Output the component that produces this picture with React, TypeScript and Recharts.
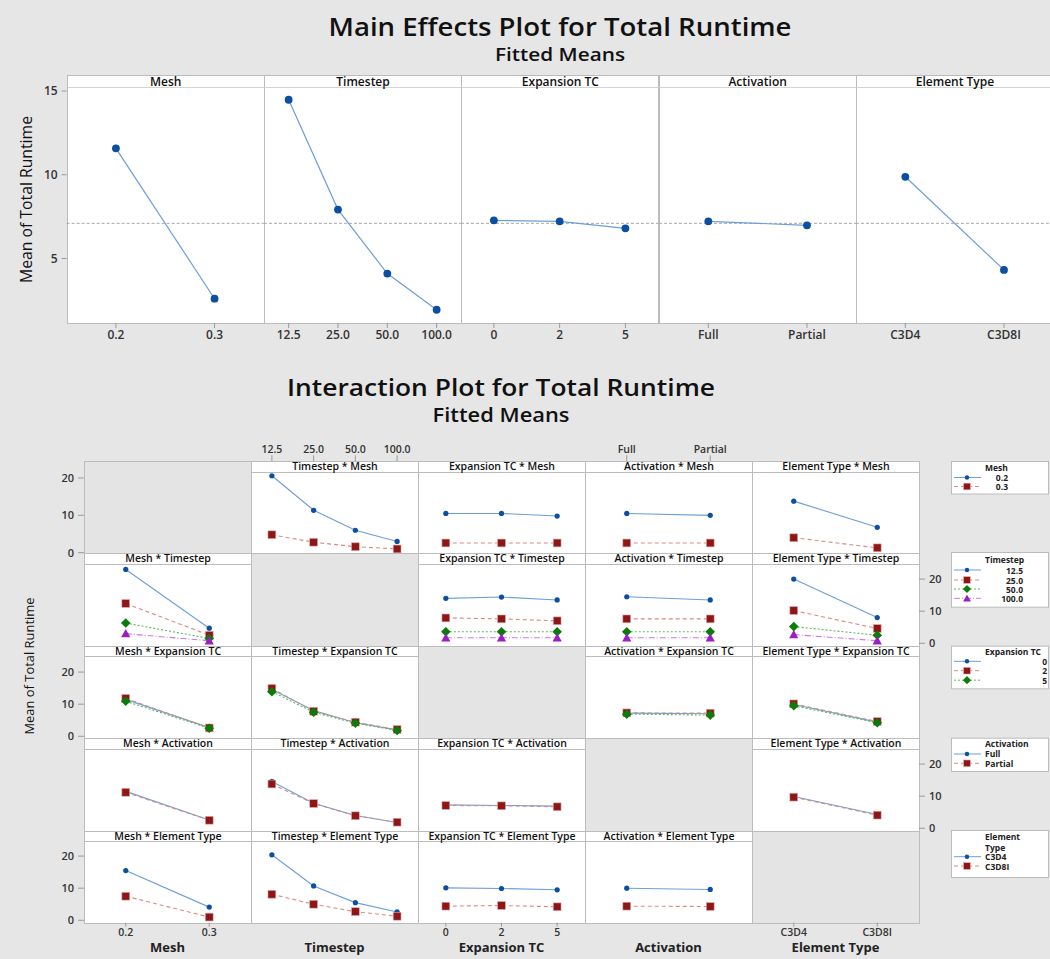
import React from 'react';
import { LineChart, Line, XAxis, YAxis, ReferenceLine } from 'recharts';

// factor levels (x categories)
const meshLevels = ['0.2', '0.3'];
const timestepLevels = ['12.5', '25.0', '50.0', '100.0'];
const expansionLevels = ['0', '2', '5'];
const activationLevels = ['Full', 'Partial'];
const elementLevels = ['C3D4', 'C3D8I'];

const factorNames = ['Mesh', 'Timestep', 'Expansion TC', 'Activation', 'Element Type'];
const factorLevels = [meshLevels, timestepLevels, expansionLevels, activationLevels, elementLevels];

// main effects, fitted means
const meshMeans = [11.58, 2.6];
const timestepMeans = [14.48, 7.92, 4.1, 1.94];
const expansionMeans = [7.28, 7.22, 6.8];
const activationMeans = [7.22, 6.98];
const elementMeans = [9.88, 4.32];
const mainMeans = [meshMeans, timestepMeans, expansionMeans, activationMeans, elementMeans];
const grandMean = 7.1;
const mainTicks = [5, 10, 15];

// interaction fitted means: [group level][x level]
// row 1: grouped by Mesh
const timestepByMesh = [[20.6, 11.35, 6.0, 3.0], [4.8, 2.8, 1.6, 1.0]];
const expansionByMesh = [[10.5, 10.5, 9.8], [2.6, 2.6, 2.6]];
const activationByMesh = [[10.5, 10.0], [2.6, 2.6]];
const elementByMesh = [[13.8, 6.8], [4.0, 1.3]];
// row 2: grouped by Timestep
const meshByTimestep = [[23.0, 4.7], [12.4, 2.5], [6.3, 1.5], [3.0, 0.8]];
const expansionByTimestep = [[14.0, 14.4, 13.5], [7.9, 7.6, 7.0], [3.6, 3.6, 3.6], [1.7, 1.7, 1.7]];
const activationByTimestep = [[14.5, 13.5], [7.6, 7.6], [3.6, 3.6], [1.7, 1.7]];
const elementByTimestep = [[20.0, 8.0], [10.2, 4.6], [5.2, 2.5], [2.7, 0.8]];
// row 3: grouped by Expansion TC
const meshByExpansion = [[11.5, 2.7], [11.8, 2.6], [10.9, 2.5]];
const timestepByExpansion = [[14.6, 8.0, 4.2, 2.0], [14.9, 7.8, 4.4, 2.1], [13.9, 7.5, 4.1, 1.8]];
const activationByExpansion = [[7.2, 7.0], [7.3, 7.2], [6.9, 6.6]];
const elementByExpansion = [[9.9, 4.4], [10.1, 4.6], [9.5, 4.2]];
// row 4: grouped by Activation
const meshByActivation = [[11.5, 2.6], [11.2, 2.5]];
const timestepByActivation = [[14.6, 7.8, 4.0, 1.8], [13.8, 7.7, 3.9, 1.9]];
const expansionByActivation = [[7.3, 7.1, 6.9], [7.1, 7.0, 6.7]];
const elementByActivation = [[9.9, 4.3], [9.7, 4.1]];
// row 5: grouped by Element Type
const meshByElement = [[15.5, 4.1], [7.5, 1.0]];
const timestepByElement = [[20.4, 10.7, 5.5, 2.6], [8.1, 5.0, 2.7, 1.25]];
const expansionByElement = [[10.1, 9.9, 9.5], [4.4, 4.6, 4.2]];
const activationByElement = [[10.0, 9.6], [4.4, 4.3]];

const interactionCells: (number[][] | null)[][] = [
  [null, timestepByMesh, expansionByMesh, activationByMesh, elementByMesh],
  [meshByTimestep, null, expansionByTimestep, activationByTimestep, elementByTimestep],
  [meshByExpansion, timestepByExpansion, null, activationByExpansion, elementByExpansion],
  [meshByActivation, timestepByActivation, expansionByActivation, null, elementByActivation],
  [meshByElement, timestepByElement, expansionByElement, activationByElement, null],
];
const interTicks = [0, 10, 20];

// layout
const FONT = '"Open Sans", "Noto Sans", sans-serif';
const BG = '#e6e6e6';
const BORDER = '#bcbcbc';
const TICK = '#9a9a9a';

const ME_LEFT = 66.6;
const ME_W = 197.3;
const ME_HEAD_TOP = 74.5;
const ME_PLOT_TOP = 87;
const ME_PLOT_BOTTOM = 323;

const IP_LEFT = 84;
const IP_COL_W = 167;
const IP_TOP = 461;
const IP_ROW_H = 92.4;
const IP_HEAD = 10.7;

type Shape = 'circle' | 'square' | 'diamond' | 'triangle';
const SERIES = [
  { line: '#6c9fd8', dash: undefined as string | undefined, fill: '#0b4ea2', shape: 'circle' as Shape },
  { line: '#d98b86', dash: '4 3', fill: '#8e1616', shape: 'square' as Shape },
  { line: '#5cb85c', dash: '2 2', fill: '#0b7c0b', shape: 'diamond' as Shape },
  { line: '#c77ddf', dash: '6 2 1 2', fill: '#9a1ec4', shape: 'triangle' as Shape },
];

function Marker({ cx, cy, shape, fill, s = 1 }: { cx?: number; cy?: number; shape: Shape; fill: string; s?: number }) {
  if (cx == null || cy == null) return null;
  if (shape === 'circle') return <circle cx={cx} cy={cy} r={2.6 * s} fill={fill} />;
  if (shape === 'square') {
    const h = 3.9 * s;
    return <rect x={cx - h} y={cy - h} width={2 * h} height={2 * h} fill={fill} stroke="#e2a6a6" strokeWidth={0.6} />;
  }
  if (shape === 'diamond') {
    const h = 4.8 * s;
    return <polygon points={`${cx},${cy - h} ${cx + h},${cy} ${cx},${cy + h} ${cx - h},${cy}`} fill={fill} />;
  }
  const h = 4.6 * s;
  return <polygon points={`${cx},${cy - h} ${cx + h},${cy + h * 0.8} ${cx - h},${cy + h * 0.8}`} fill={fill} />;
}

const tickText = (size: number) => ({ fill: '#333', fontSize: size, fontWeight: 600, fontFamily: FONT });

function MainPanel({ idx }: { idx: number }) {
  const levels = factorLevels[idx];
  const means = mainMeans[idx];
  const first = idx === 0;
  const L = first ? ME_LEFT : 0;
  const panelLeft = ME_LEFT + idx * ME_W;
  const data = levels.map((_, i) => ({ i, mean: means[i] }));
  return (
    <div style={{ position: 'absolute', left: panelLeft - L, top: ME_PLOT_TOP - 8 }}>
      <LineChart width={ME_W + L} height={ME_PLOT_BOTTOM - ME_PLOT_TOP + 34} data={data} margin={{ top: 8, right: 0, bottom: 0, left: 0 }}>
        <XAxis
          type="number"
          dataKey="i"
          domain={[-0.5, levels.length - 0.5]}
          ticks={levels.map((_, i) => i)}
          tickFormatter={(v: number) => levels[v] ?? ''}
          interval={0}
          height={26}
          axisLine={false}
          tickSize={5}
          tickMargin={2}
          tickLine={{ stroke: TICK }}
          tick={tickText(12)}
          allowDataOverflow
        />
        <YAxis
          type="number"
          domain={[1.15, 15.24]}
          ticks={mainTicks}
          interval={0}
          hide={!first}
          width={L}
          axisLine={false}
          tickSize={5}
          tickMargin={4}
          tickLine={{ stroke: TICK }}
          tick={tickText(12)}
          allowDataOverflow
        />
        <ReferenceLine y={grandMean} stroke="#a9a9a9" strokeDasharray="3 2" />
        <Line
          type="linear"
          dataKey="mean"
          stroke="#6c9fd8"
          strokeWidth={1.2}
          dot={(p: any) => <Marker key={`m${p.index}`} cx={p.cx} cy={p.cy} shape="circle" fill="#0b4ea2" s={1.5} />}
          activeDot={false}
          isAnimationActive={false}
        />
      </LineChart>
    </div>
  );
}

function InteractionCell({ r, c }: { r: number; c: number }) {
  const series = interactionCells[r][c];
  const levels = factorLevels[c];
  const left = c === 0 && r % 2 === 0;
  const right = c === 4 && r % 2 === 1;
  const top = r === 0 && c % 2 === 1;
  const bottom = r === 4 && c % 2 === 0;
  if (!series && !left && !right && !top && !bottom) return null;
  const L = left ? 44 : 0;
  const R = right ? 34 : 0;
  const T = top ? 36 : 0;
  const B = bottom ? 22 : 0;
  const PAD = 8; // room so edge tick labels are not clipped
  const plotTop = IP_TOP + r * IP_ROW_H + IP_HEAD;
  const plotH = IP_ROW_H - IP_HEAD;
  const colLeft = IP_LEFT + c * IP_COL_W;
  const data = levels.map((_, i) => {
    const row: Record<string, number> = { i };
    (series || []).forEach((s, k) => {
      row['s' + k] = s[i];
    });
    return row;
  });
  const yDomain = r === 0 ? [-0.27, 21.6] : [-0.75, 24.7];
  return (
    <div style={{ position: 'absolute', left: colLeft - L, top: plotTop - T - PAD }}>
      <LineChart
        width={IP_COL_W + L + R}
        height={plotH + T + B + 2 * PAD}
        data={data}
        margin={{ top: PAD, right: 0, bottom: PAD, left: 0 }}
      >
        <XAxis
          type="number"
          dataKey="i"
          domain={[-0.5, levels.length - 0.5]}
          ticks={levels.map((_, i) => i)}
          tickFormatter={(v: number) => levels[v] ?? ''}
          interval={0}
          hide={!top && !bottom}
          orientation={top ? 'top' : 'bottom'}
          height={top ? T : B || 1}
          axisLine={false}
          tickSize={top ? IP_HEAD + 6 : 4}
          tickMargin={2}
          tickLine={{ stroke: TICK }}
          tick={tickText(10.5)}
          allowDataOverflow
        />
        <YAxis
          type="number"
          domain={yDomain}
          ticks={interTicks}
          interval={0}
          hide={!left && !right}
          orientation={right ? 'right' : 'left'}
          width={left ? L : R || 1}
          axisLine={false}
          tickSize={6}
          tickMargin={4}
          tickLine={{ stroke: TICK }}
          tick={tickText(11)}
          allowDataOverflow
        />
        {(series || []).map((_, k) => {
          const st = SERIES[k];
          return (
            <Line
              key={k}
              type="linear"
              dataKey={'s' + k}
              stroke={st.line}
              strokeWidth={1.1}
              strokeDasharray={st.dash}
              dot={(p: any) => <Marker key={`d${k}-${p.index}`} cx={p.cx} cy={p.cy} shape={st.shape} fill={st.fill} />}
              activeDot={false}
              isAnimationActive={false}
            />
          );
        })}
      </LineChart>
    </div>
  );
}

const legendLayout = [
  { top: 461, h: 32.5, titleY: [6.5], rows: [16.5, 25.5], labelX: 57, anchor: 'end' },
  { top: 552, h: 54.7, titleY: [7], rows: [18, 28, 37, 46.3], labelX: 72, anchor: 'end' },
  { top: 645.7, h: 42.6, titleY: [5.5], rows: [15.6, 25, 34.5], labelX: 96, anchor: 'end' },
  { top: 737.7, h: 33.3, titleY: [6.3], rows: [16.3, 25.6], labelX: 34, anchor: 'start' },
  { top: 830, h: 47, titleY: [6.7, 17.3], rows: [26.7, 36], labelX: 34, anchor: 'start' },
];

function LegendBox({ idx }: { idx: number }) {
  const lay = legendLayout[idx];
  const name = factorNames[idx];
  const titleLines = idx === 4 ? ['Element', 'Type'] : [name];
  return (
    <g transform={`translate(951, ${lay.top})`}>
      <rect x={0.5} y={0.5} width={97} height={lay.h} fill="#fff" stroke={BORDER} />
      {titleLines.map((t, i) => (
        <text key={t} x={34} y={lay.titleY[i]} dominantBaseline="central" fontSize={8.5} fontWeight={700} fill="#222">
          {t}
        </text>
      ))}
      {factorLevels[idx].map((lv, k) => {
        const st = SERIES[k];
        const y = lay.rows[k];
        return (
          <g key={lv}>
            <line x1={3} x2={30} y1={y} y2={y} stroke={st.line} strokeWidth={1} strokeDasharray={st.dash} />
            <Marker cx={16} cy={y} shape={st.shape} fill={st.fill} s={0.85} />
            <text x={lay.labelX} y={y} dominantBaseline="central" textAnchor={lay.anchor as any} fontSize={8.5} fontWeight={700} fill="#222">
              {lv}
            </text>
          </g>
        );
      })}
    </g>
  );
}

const abs = (l: number, t: number, w: number, h: number): React.CSSProperties => ({
  position: 'absolute',
  left: l,
  top: t,
  width: w,
  height: h,
  boxSizing: 'border-box',
});

export default function App() {
  const idx5 = [0, 1, 2, 3, 4];
  return (
    <div style={{ position: 'absolute', left: 0, top: 0, width: 1050, height: 959, background: BG, overflow: 'hidden', fontFamily: FONT }}>
      {/* main effects panel backgrounds */}
      {idx5.map((i) => (
        <div
          key={'mb' + i}
          style={{ ...abs(ME_LEFT + i * ME_W, ME_HEAD_TOP, ME_W + 1, ME_PLOT_BOTTOM - ME_HEAD_TOP + 1), background: '#fff', border: `1px solid ${BORDER}` }}
        />
      ))}
      {idx5.map((i) => (
        <MainPanel key={'mp' + i} idx={i} />
      ))}
      {idx5.map((i) => (
        <div
          key={'mh' + i}
          style={{
            ...abs(ME_LEFT + i * ME_W, ME_HEAD_TOP, ME_W + 1, ME_PLOT_TOP - ME_HEAD_TOP + 1),
            background: '#fff',
            border: `1px solid ${BORDER}`,
            borderBottomColor: '#d4d4d4',
            fontSize: 12,
            fontWeight: 600,
            lineHeight: `${ME_PLOT_TOP - ME_HEAD_TOP - 1}px`,
            textAlign: 'center',
            color: '#111',
          }}
        >
          {factorNames[i]}
        </div>
      ))}

      {/* interaction grid backgrounds */}
      {idx5.map((r) =>
        idx5.map((c) => (
          <div
            key={`ib${r}-${c}`}
            style={{
              ...abs(IP_LEFT + c * IP_COL_W, IP_TOP + r * IP_ROW_H, IP_COL_W + 1, IP_ROW_H + 1),
              background: r === c ? '#e4e4e4' : '#fff',
              border: `1px solid ${BORDER}`,
            }}
          />
        ))
      )}
      {idx5.map((r) => idx5.map((c) => <InteractionCell key={`ic${r}-${c}`} r={r} c={c} />))}
      {idx5.map((r) =>
        idx5.map((c) =>
          r === c ? null : (
            <div
              key={`ih${r}-${c}`}
              style={{
                ...abs(IP_LEFT + c * IP_COL_W, IP_TOP + r * IP_ROW_H, IP_COL_W + 1, IP_HEAD + 1),
                background: '#fff',
                border: `1px solid ${BORDER}`,
                fontSize: 10.5,
                fontWeight: 600,
                lineHeight: `${IP_HEAD - 1}px`,
                textAlign: 'center',
                color: '#111',
                whiteSpace: 'nowrap',
              }}
            >
              {`${factorNames[c]} * ${factorNames[r]}`}
            </div>
          )
        )
      )}

      <svg width={1050} height={959} style={{ position: 'absolute', left: 0, top: 0, pointerEvents: 'none' }} fontFamily={FONT}>
        <text x={560} y={36} textAnchor="middle" fontSize={25} fontWeight={600} fill="#111" textLength={463} lengthAdjust="spacingAndGlyphs">
          Main Effects Plot for Total Runtime
        </text>
        <text x={560} y={61} textAnchor="middle" fontSize={18} fontWeight={600} fill="#111" textLength={130} lengthAdjust="spacingAndGlyphs">
          Fitted Means
        </text>
        <text x={501} y={396} textAnchor="middle" fontSize={23} fontWeight={600} fill="#111" textLength={428} lengthAdjust="spacingAndGlyphs">
          Interaction Plot for Total Runtime
        </text>
        <text x={501} y={422} textAnchor="middle" fontSize={19} fontWeight={600} fill="#111" textLength={137} lengthAdjust="spacingAndGlyphs">
          Fitted Means
        </text>
        <text transform="translate(32,199.5) rotate(-90)" textAnchor="middle" fontSize={16} fill="#111" textLength={167} lengthAdjust="spacingAndGlyphs">
          Mean of Total Runtime
        </text>
        <text transform="translate(34,666) rotate(-90)" textAnchor="middle" fontSize={13} fill="#111" textLength={137} lengthAdjust="spacingAndGlyphs">
          Mean of Total Runtime
        </text>
        {idx5.map((c) => (
          <text key={'ct' + c} x={IP_LEFT + c * IP_COL_W + IP_COL_W / 2} y={952} textAnchor="middle" fontSize={13} fontWeight={700} fill="#222">
            {factorNames[c]}
          </text>
        ))}
        {idx5.map((i) => (
          <LegendBox key={'lg' + i} idx={i} />
        ))}
      </svg>
    </div>
  );
}
